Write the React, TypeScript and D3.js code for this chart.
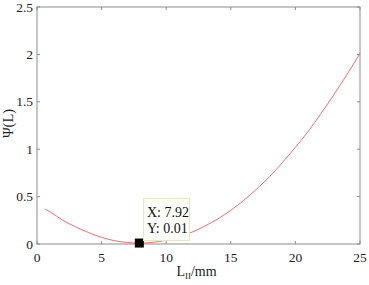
import React from "react";
import * as d3 from "d3";

// curve samples
const lengths = [0.6, 1, 2, 3, 4, 5, 6, 7, 7.92, 9, 10, 11, 12, 13, 14, 15, 16, 17, 18, 19, 20, 21, 22, 23, 24, 25];
const psi = [0.37, 0.34, 0.25, 0.18, 0.12, 0.07, 0.035, 0.016, 0.01, 0.018, 0.04, 0.075, 0.125, 0.19, 0.265, 0.356, 0.46, 0.58, 0.71, 0.86, 1.02, 1.19, 1.38, 1.58, 1.79, 2.01];
const xTicks = [0, 5, 10, 15, 20, 25];
const yTicks = [0, 0.5, 1, 1.5, 2, 2.5];
const tipPoint = { x: 7.92, y: 0.01 };

const W = 369;
const H = 285;
const margin = { left: 37, right: 9, top: 7, bottom: 41 };
const serif = "'Liberation Serif', 'Times New Roman', serif";

export default function App() {
  const x = d3.scaleLinear().domain([0, 25]).range([margin.left, W - margin.right]);
  const y = d3.scaleLinear().domain([0, 2.5]).range([H - margin.bottom, margin.top]);

  const pts = lengths.map((l, i) => [l, psi[i]] as [number, number]);
  const line = d3
    .line<[number, number]>()
    .x(d => x(d[0]))
    .y(d => y(d[1]))
    .curve(d3.curveMonotoneX);

  const x0 = x(0), x1 = x(25), y0 = y(0), y1 = y(2.5);
  const axisColor = "#8c8c8c";
  const tx = x(tipPoint.x), ty = y(tipPoint.y);

  return (
    <svg width={W} height={H} style={{ position: "absolute", left: 0, top: 0, background: "#fff" }}>
      <rect x={0} y={0} width={W} height={H} fill="#fff" />
      <path d={line(pts) || ""} fill="none" stroke="#f26d6d" strokeWidth={1} />

      {/* box */}
      <rect x={x0} y={y1} width={x1 - x0} height={y0 - y1} fill="none" stroke={axisColor} strokeWidth={1} />

      {xTicks.map(t => (
        <g key={"x" + t}>
          <line x1={x(t)} x2={x(t)} y1={y0} y2={y0 - 3} stroke={axisColor} />
          <line x1={x(t)} x2={x(t)} y1={y1} y2={y1 + 3} stroke={axisColor} />
          <text x={x(t)} y={y0 + 18} textAnchor="middle" fontFamily={serif} fontSize={13.5} fill="#222">
            {t}
          </text>
        </g>
      ))}
      {yTicks.map(t => (
        <g key={"y" + t}>
          <line x1={x0} x2={x0 + 3} y1={y(t)} y2={y(t)} stroke={axisColor} />
          <line x1={x1} x2={x1 - 3} y1={y(t)} y2={y(t)} stroke={axisColor} />
          <text x={x0 - 4} y={y(t) + 4.5} textAnchor="end" fontFamily={serif} fontSize={13.5} fill="#222">
            {t}
          </text>
        </g>
      ))}

      <text
        transform={`translate(13,${(y0 + y1) / 2 - 2}) rotate(-90)`}
        textAnchor="middle"
        fontFamily={serif}
        fontSize={14.5}
        fill="#222"
      >
        Ψ(L)
      </text>
      <text x={(x0 + x1) / 2 - 2} y={276} textAnchor="middle" fontFamily={serif} fontSize={14} fill="#222">
        L<tspan fontSize={9} dy={3}>II</tspan>
        <tspan dy={-3}>/mm</tspan>
      </text>

      {/* data tip */}
      <rect x={tx - 4.5} y={ty - 4.5} width={9} height={9} fill="#000" />
      <rect x={143.5} y={198.5} width={46} height={42} fill="#fffffa" stroke="#e6e6c8" />
      <text x={147} y={217} fontFamily={serif} fontSize={14} fill="#111">X: 7.92</text>
      <text x={147} y={233} fontFamily={serif} fontSize={14} fill="#111">Y: 0.01</text>
    </svg>
  );
}
